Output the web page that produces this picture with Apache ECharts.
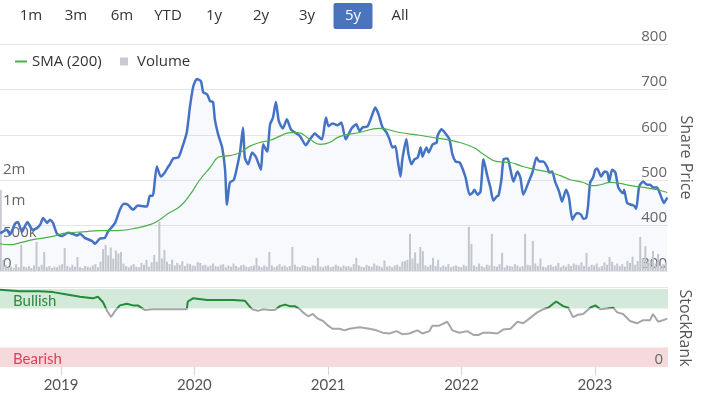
<!DOCTYPE html>
<html><head><meta charset="utf-8">
<script src="https://cdn.jsdelivr.net/npm/echarts@6/dist/echarts.min.js"></script>
<style>html,body{margin:0;padding:0;background:#fff}#c{width:703px;height:393px}</style>
</head><body><div id="c"></div>
<script>
// ---------- data ----------
const rangeButtons = ['1m','3m','6m','YTD','1y','2y','3y','5y','All'];
const activeRange = '5y';
const yearLabels = [2019, 2020, 2021, 2022, 2023];
const priceTicks = [300, 400, 500, 600, 700, 800];

const priceDates = ['2018-07-18','2018-08-06','2018-08-14','2018-08-28','2018-09-05','2018-09-16','2018-10-01','2018-10-15','2018-10-28','2018-11-05','2018-11-13','2018-11-24','2018-12-02','2018-12-10','2018-12-21',
'2019-01-04','2019-01-20','2019-02-01','2019-02-14','2019-02-22','2019-03-07','2019-03-27','2019-04-04','2019-04-17','2019-05-01','2019-05-09','2019-05-29','2019-06-11','2019-06-22','2019-07-03','2019-07-17','2019-07-30','2019-08-24','2019-09-01','2019-09-09','2019-09-20','2019-10-01','2019-10-12','2019-10-20','2019-10-26','2019-11-04','2019-11-18','2019-11-27','2019-12-11','2019-12-20','2019-12-29',
'2020-01-08','2020-01-19','2020-01-25','2020-02-05','2020-02-13','2020-02-21','2020-02-26','2020-03-06','2020-03-17','2020-03-25','2020-03-30','2020-04-07','2020-04-18','2020-04-27','2020-05-05','2020-05-13','2020-05-18','2020-05-27','2020-06-07','2020-06-18','2020-07-01','2020-07-07','2020-07-18','2020-07-26','2020-08-03','2020-08-11','2020-08-19','2020-08-30','2020-09-10','2020-09-21','2020-10-02','2020-10-16','2020-11-01','2020-11-12','2020-11-26','2020-12-01','2020-12-15','2020-12-26',
'2021-01-02','2021-01-13','2021-01-27','2021-02-06','2021-02-18','2021-03-06','2021-03-19','2021-03-28','2021-04-05','2021-04-19','2021-05-02','2021-05-10','2021-05-19','2021-05-30','2021-06-10','2021-06-18','2021-06-26','2021-07-04','2021-07-10','2021-07-18','2021-07-23','2021-08-03','2021-08-09','2021-08-17','2021-08-25','2021-09-03','2021-09-11','2021-09-16','2021-09-27','2021-10-03','2021-10-14','2021-10-25','2021-10-27','2021-11-07','2021-11-18','2021-11-29','2021-12-07','2021-12-16','2021-12-27',
'2022-01-12','2022-01-23','2022-02-01','2022-02-05','2022-02-14','2022-02-22','2022-03-02','2022-03-13','2022-03-21','2022-03-29','2022-04-07','2022-04-12','2022-04-20','2022-04-26','2022-05-07','2022-05-15','2022-05-23','2022-06-03','2022-06-11','2022-06-19','2022-07-03','2022-07-14','2022-07-25','2022-08-02','2022-08-13','2022-08-24','2022-08-29','2022-09-06','2022-09-14','2022-09-25','2022-10-03','2022-10-14','2022-10-22','2022-10-31','2022-11-05','2022-11-13','2022-11-24','2022-11-30','2022-12-08','2022-12-13','2022-12-19','2022-12-27',
'2023-01-02','2023-01-07','2023-01-18','2023-01-27','2023-02-04','2023-02-09','2023-02-17','2023-02-26','2023-03-06','2023-03-19','2023-03-22','2023-03-30','2023-04-10','2023-04-18','2023-04-24','2023-05-02','2023-05-13','2023-05-24','2023-06-01','2023-06-09','2023-06-20','2023-07-01','2023-07-09','2023-07-18'];
const priceValues = [383,391,380,404,408,386,408,391,395,402,417,406,413,406,382,
377,384,382,378,382,373,366,360,371,373,386,406,435,448,446,435,444,442,466,466,530,508,517,528,535,548,550,568,605,663,707,
723,718,694,689,674,672,634,601,572,523,446,495,501,530,563,616,550,535,561,550,523,579,563,623,638,672,630,614,634,612,605,597,577,590,603,599,590,638,
619,625,621,627,590,614,623,608,616,619,645,660,645,616,605,590,572,575,546,508,546,590,557,535,546,550,572,552,572,561,579,583,597,612,603,590,557,541,539,
506,468,473,479,468,475,546,508,484,455,464,466,501,546,548,523,497,519,506,468,495,517,550,541,541,528,517,519,497,475,453,479,462,413,420,428,424,415,417,442,495,506,
523,526,508,519,517,497,523,517,484,471,479,450,446,444,437,486,497,490,490,484,484,464,450,462];

const smaDates = ['2018-07-18','2018-08-14','2018-09-10','2018-10-16','2018-12-02','2019-01-18','2019-03-02','2019-04-17','2019-06-03','2019-07-17','2019-09-01','2019-09-28','2019-10-20','2019-11-22','2019-12-20','2020-01-16','2020-02-13','2020-03-11','2020-04-07','2020-05-05','2020-06-01','2020-06-28','2020-07-26','2020-08-22','2020-09-19','2020-10-10','2020-11-12','2020-12-10','2021-01-05','2021-02-01','2021-03-28','2021-05-21','2021-07-15','2021-09-08','2021-11-01','2021-12-18','2022-02-03','2022-03-02','2022-04-09','2022-05-15','2022-06-11','2022-07-08','2022-09-01','2022-09-29','2022-10-26','2022-11-30','2022-12-25','2023-01-16','2023-02-12','2023-03-11','2023-04-08','2023-05-13','2023-06-20','2023-07-18'];
const smaValues = [360,358,362,369,375,384,386,389,389,393,402,413,426,442,468,501,528,552,554,561,575,583,588,597,605,605,590,579,583,596,605,614,605,599,592,585,572,557,541,539,532,526,517,510,501,495,488,490,495,493,488,484,479,473];

// weekly volume (thousands), first week starting 2018-07-20
const volumeStart = '2018-07-20';
const volumeK = [1300,180,90,60,70,50,110,60,420,70,
60,80,50,90,467,70,100,306,60,80,
50,70,60,90,110,370,80,60,100,70,
225,60,50,80,70,60,90,110,60,150,
350,420,250,380,200,330,280,306,120,80,
60,90,110,70,60,130,100,180,70,140,
258,150,790,200,338,150,110,180,90,130,
100,160,80,120,110,90,80,145,130,90,
100,70,90,120,80,70,100,110,60,90,
70,120,80,60,90,100,70,60,80,90,
210,80,60,90,70,306,90,60,80,110,
70,90,60,80,386,100,70,60,90,80,
70,60,90,80,210,70,60,80,90,60,
70,100,80,60,90,70,80,60,110,210,
90,70,60,100,80,70,120,90,80,60,
170,70,80,60,90,100,70,150,160,180,
596,200,300,120,386,322,90,70,100,210,
80,180,60,90,70,110,60,80,90,70,
60,100,80,708,435,90,70,120,80,60,
100,90,596,80,70,110,290,60,90,80,
70,110,90,60,80,596,100,90,483,120,
80,200,70,60,90,100,70,80,130,60,
90,70,110,80,120,100,90,140,80,290,
70,100,90,120,60,80,140,100,225,150,
90,120,80,110,70,160,130,230,100,160,
547,200,400,150,180,322,120,274,90,110,
140];

const rankDates = ['2018-07-18','2018-09-10','2018-11-04','2018-12-10','2018-12-15','2019-01-17','2019-02-22','2019-03-29','2019-04-12','2019-04-26','2019-05-07','2019-05-18','2019-05-29','2019-06-11','2019-06-30','2019-07-17','2019-07-30','2019-08-19','2019-09-09','2019-11-03','2019-12-11','2019-12-14','2019-12-28','2020-02-05','2020-03-11','2020-04-16','2020-05-18','2020-05-27','2020-06-07','2020-06-23','2020-07-07','2020-07-26','2020-08-08','2020-08-22','2020-09-05','2020-09-18','2020-10-02','2020-10-16','2020-10-24','2020-11-07','2020-11-20','2020-12-04','2020-12-18','2021-01-01','2021-01-13','2021-02-01','2021-02-15','2021-02-28','2021-03-28','2021-04-24','2021-05-13','2021-05-30','2021-06-18','2021-07-07','2021-07-23','2021-08-11','2021-09-02','2021-09-16','2021-10-05','2021-10-13','2021-11-01','2021-11-23','2021-12-07','2021-12-26','2022-01-17','2022-02-03','2022-02-16','2022-03-02','2022-03-21','2022-04-09','2022-04-25','2022-05-15','2022-06-03','2022-06-19','2022-07-08','2022-07-27','2022-08-12','2022-08-26','2022-09-17','2022-10-06','2022-10-20','2022-11-02','2022-11-16','2022-11-30','2022-12-19','2023-01-02','2023-01-16','2023-02-04','2023-02-20','2023-03-03','2023-03-19','2023-04-07','2023-04-26','2023-05-13','2023-06-01','2023-06-09','2023-06-23','2023-07-06','2023-07-18'];
const rankValues = [99,97,97,96,94,93,90,88,90,83,72,64,72,79,81,79,79,73,74,74,74,84,88,86,86,86,85,80,74,72,74,73,73,78,80,78,78,74,70,65,68,62,59,53,49,49,47,49,51,49,47,44,43,46,42,43,47,43,46,53,53,58,47,44,46,41,41,44,44,43,48,49,58,56,63,70,74,76,84,78,76,64,67,68,76,79,74,75,76,70,68,59,56,60,60,68,58,60,62];

const bands = [{name:'Bullish', from:75, to:100}, {name:'Bearish', from:0, to:25}];
const bullishThreshold = 75;

// ---------- build ----------
const FONT = '"Open Sans", sans-serif';
const FONT2 = 'Lato, "Open Sans", sans-serif';
const ts = d => new Date(d + 'T00:00:00').getTime();
const X_MIN = ts('2018-07-18');
const X_MAX = ts('2023-07-20');
const yearTs = yearLabels.map(y => new Date(y, 0, 1).getTime());

const volStart = ts(volumeStart);
const volumeData = volumeK.map((v, i) => [volStart + i * 7 * 86400000, v * 1000]);

const chart = echarts.init(document.getElementById('c'));

// range selector (text graphics)
const btnX = [31, 76, 122, 168, 214, 261, 307, 353, 400];
const graphics = [];
rangeButtons.forEach((b, i) => {
  if (b === activeRange) {
    graphics.push({type:'rect', shape:{x:btnX[i]-19.5, y:3, width:39, height:26, r:2}, style:{fill:'#4a75bd'}});
  }
  graphics.push({type:'text', x:btnX[i], y:16, style:{text:b, align:'center', verticalAlign:'middle',
    fill: b === activeRange ? '#fff' : '#333', fontSize:15, fontFamily:FONT}});
});
graphics.push({type:'line', shape:{x1:0, y1:287.5, x2:668, y2:287.5}, style:{stroke:'#e6e6e6', lineWidth:1}, silent:true});

const GREEN = '#238a3a', GRAY = '#a6a6a6';

const option = {
  animation:false,
  backgroundColor:'#fff',
  graphic: graphics,
  legend:[
    {left:10, top:49, data:['SMA (200)'], icon:'rect', itemWidth:12, itemHeight:2, selectedMode:false,
     textStyle:{fontSize:15, color:'#333', fontFamily:FONT}},
    {left:115, top:49, data:['Volume'], icon:'rect', itemWidth:8, itemHeight:8, selectedMode:false,
     textStyle:{fontSize:15, color:'#333', fontFamily:FONT, padding:[0,0,0,4]}}
  ],
  grid:[
    {left:0, right:35, top:44, height:227},
    {left:0, right:35, top:289, height:81}
  ],
  xAxis:[
    {type:'value', gridIndex:0, min:X_MIN, max:X_MAX, show:false, splitLine:{show:false}},
    {type:'value', gridIndex:1, min:X_MIN, max:X_MAX, splitLine:{show:false},
     axisLine:{show:false},
     axisTick:{show:true, length:8, lineStyle:{color:'#ccd6eb'}, customValues: yearTs},
     axisLabel:{customValues: yearTs, formatter: v => String(new Date(v).getFullYear()),
       fontSize:15, color:'#555', fontFamily:FONT2, margin:11}}
  ],
  yAxis:[
    {type:'value', gridIndex:0, position:'right', min:priceTicks[0], max:priceTicks[priceTicks.length-1], interval:100,
     name:'Share Price', nameLocation:'middle', nameRotate:-90, nameGap:7,
     nameTextStyle:{fontSize:16, color:'#555', fontFamily:FONT},
     axisLine:{show:false}, axisTick:{show:false},
     splitLine:{lineStyle:{color:'#e6e6e6'}},
     axisLabel:{inside:true, verticalAlign:'bottom', margin:1, fontSize:15, color:'#666', fontFamily:FONT}},
    {type:'value', gridIndex:0, position:'left', min:0, max:3645000, interval:500000,
     axisLine:{show:false}, axisTick:{show:false}, splitLine:{show:false},
     axisLabel:{inside:true, verticalAlign:'bottom', margin:3, fontSize:15, color:'#666', fontFamily:FONT,
       formatter: v => v === 0 ? '0' : v > 1500000 ? '' : v >= 1000000 ? Math.round(v/1e6) + 'm' : Math.round(v/1e3) + 'k'}},
    {type:'value', gridIndex:1, position:'right', min:0, max:100, interval:25, z:10,
     name:'StockRank', nameLocation:'middle', nameRotate:-90, nameGap:7,
     nameTextStyle:{fontSize:16, color:'#555', fontFamily:FONT},
     axisLine:{show:false}, axisTick:{show:false}, splitLine:{show:false},
     axisLabel:{inside:true, verticalAlign:'bottom', margin:5, fontSize:15, color:'#666', fontFamily:FONT,
       showMinLabel:true, formatter: v => v === 0 ? '0' : ''}}
  ],
  series:[
    {name:'Price', type:'line', xAxisIndex:0, yAxisIndex:0, symbol:'none', smooth:0.2, z:4,
     data: priceDates.map((d, i) => [ts(d), priceValues[i]]),
     lineStyle:{color:'#4472c4', width:2.5}, itemStyle:{color:'#4472c4'},
     areaStyle:{color:'rgba(68,114,196,0.06)', origin:'start'}},
    {name:'SMA (200)', type:'line', xAxisIndex:0, yAxisIndex:0, symbol:'none', smooth:true, z:5,
     data: smaDates.map((d, i) => [ts(d), smaValues[i]]),
     lineStyle:{color:'#4cae4c', width:1.2}, itemStyle:{color:'#4cae4c'}},
    {name:'Volume', type:'bar', xAxisIndex:0, yAxisIndex:1, barWidth:2, z:2,
     data: volumeData, itemStyle:{color:'#c9cacf'}},
    {name:'StockRank', type:'line', xAxisIndex:1, yAxisIndex:2, symbol:'none', z:4,
     data: rankDates.map((d, i) => [ts(d), rankValues[i]]),
     lineStyle:{width:2, color:GRAY},
     markArea:{silent:true, data: bands.map(b => [
       {yAxis:b.from, itemStyle:{color: b.name === 'Bullish' ? '#d3e9da' : '#f6d9db'},
        label:{show:true, position:'insideLeft', distance:13, offset:[0,2], formatter:b.name, fontSize:15, fontFamily:FONT2,
               color: b.name === 'Bullish' ? '#2f8a40' : '#e0405c'}},
       {yAxis:b.to}])}}
  ]
};
chart.setOption(option);

// colour the StockRank line green above the bullish threshold (gradient split at the axis position of the threshold)
const H = chart.getHeight();
const yT = chart.convertToPixel({yAxisIndex:2}, bullishThreshold);
const f = yT / H;
chart.setOption({series:[{name:'StockRank', lineStyle:{color:new echarts.graphic.LinearGradient(0, 0, 0, H, [
  {offset:0, color:GREEN}, {offset:f, color:GREEN}, {offset:f, color:GRAY}, {offset:1, color:GRAY}], true)}}]});
</script></body></html>
